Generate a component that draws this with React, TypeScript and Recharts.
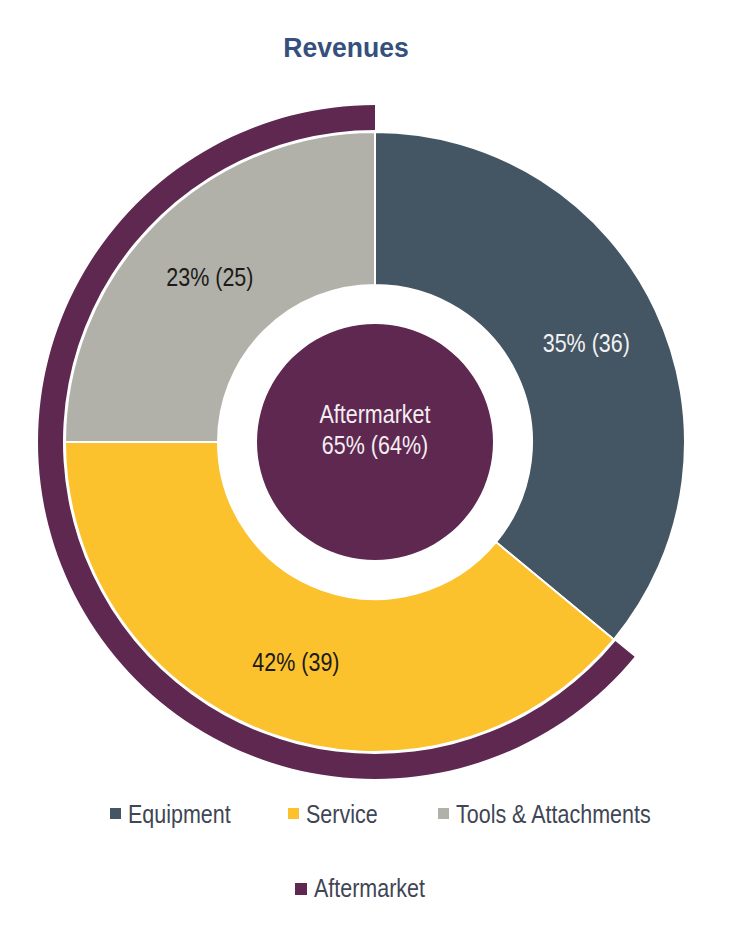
import React from 'react';
import { PieChart, Pie, Cell, Legend } from 'recharts';

// Revenues split, current year share and (previous year) share in %
const segments = ['Equipment', 'Service', 'Tools & Attachments'];
const shareNow = [35, 42, 23];
const sharePrev = [36, 39, 25];
const segmentColors = ['#445564', '#FBC22E', '#B2B1A9'];
const labelColors = ['#F2F2F2', '#1A1A1A', '#1A1A1A'];

const aftermarketName = 'Aftermarket';
const aftermarketNow = 65;
const aftermarketPrev = 64;
const aftermarketColor = '#5E2850';

const FONT = "'Liberation Sans', Arial, sans-serif";
const NARROW = 0.86; // source font is a condensed Arial
const RAD = Math.PI / 180;

// slices are drawn from the previous year shares (the picture's geometry)
const sliceData = segments.map((name, i) => ({
  name,
  value: sharePrev[i],
  now: shareNow[i],
  prev: sharePrev[i],
}));

const ringData = [
  { name: 'other', value: 100 - aftermarketPrev },
  { name: aftermarketName, value: aftermarketPrev },
];

const centerData = [{ name: aftermarketName, value: aftermarketPrev }];

// condensed text helper
const NText = ({ x, y, fill, size = 25, weight = 'normal', anchor = 'middle', scale = NARROW, children }: any) => (
  <text
    transform={`translate(${x} ${y}) scale(${scale} 1)`}
    x={0}
    y={0}
    fill={fill}
    textAnchor={anchor}
    style={{ fontFamily: FONT, fontSize: size, fontWeight: weight }}
  >
    {children}
  </text>
);

const renderSliceLabel = (props: any) => {
  const { cx, cy, midAngle, innerRadius, outerRadius, index } = props;
  const r = (innerRadius + outerRadius) / 2;
  const x = cx + r * Math.cos(-midAngle * RAD);
  const y = cy + r * Math.sin(-midAngle * RAD);
  const d = sliceData[index];
  return (
    <NText x={x} y={y + 9} fill={labelColors[index]}>
      {`${d.now}% (${d.prev})`}
    </NText>
  );
};

const renderCenterLabel = (props: any) => {
  const { cx, cy } = props;
  return (
    <g>
      <NText x={cx} y={cy - 19} fill="#F4EEF2">{aftermarketName}</NText>
      <NText x={cx} y={cy + 12} fill="#F4EEF2">{`${aftermarketNow}% (${aftermarketPrev}%)`}</NText>
    </g>
  );
};

// legend layout: [marker x, marker y, marker size, text x, baseline]
const legendItems = [
  { label: segments[0], color: segmentColors[0], mx: 110, my: 808, ms: 11, tx: 128, ty: 823 },
  { label: segments[1], color: segmentColors[1], mx: 288, my: 808, ms: 11, tx: 306, ty: 823 },
  { label: segments[2], color: segmentColors[2], mx: 438, my: 808, ms: 11, tx: 456, ty: 823 },
  { label: aftermarketName, color: aftermarketColor, mx: 295, my: 883, ms: 12, tx: 314, ty: 897 },
];
const LEGEND_TOP = 790;

const renderLegend = () => (
  <svg width={730} height={130} style={{ display: 'block' }}>
    {legendItems.map((it) => (
      <g key={it.label}>
        <rect x={it.mx} y={it.my - LEGEND_TOP} width={it.ms} height={it.ms} fill={it.color} />
        <NText x={it.tx} y={it.ty - LEGEND_TOP} fill="#3F4654" anchor="start">{it.label}</NText>
      </g>
    ))}
  </svg>
);

export default function App() {
  return (
    <div style={{ position: 'absolute', left: 0, top: 0, width: 730, height: 930, background: '#FFFFFF' }}>
      <PieChart width={730} height={930} margin={{ top: 0, right: 0, bottom: 0, left: 0 }}>
        <NText x={346} y={57} fill="#36507E" size={28} weight="bold" scale={0.95}>
          Revenues
        </NText>
        <Pie
          data={ringData}
          dataKey="value"
          cx={375}
          cy={442}
          innerRadius={312}
          outerRadius={337}
          startAngle={90}
          endAngle={-270}
          stroke="none"
          isAnimationActive={false}
        >
          <Cell fill="transparent" />
          <Cell fill={aftermarketColor} />
        </Pie>
        <Pie
          data={sliceData}
          dataKey="value"
          cx={375}
          cy={442}
          innerRadius={157}
          outerRadius={310}
          startAngle={90}
          endAngle={-270}
          stroke="#FFFFFF"
          strokeWidth={2}
          label={renderSliceLabel}
          labelLine={false}
          isAnimationActive={false}
        >
          {sliceData.map((d, i) => (
            <Cell key={d.name} fill={segmentColors[i]} />
          ))}
        </Pie>
        <Pie
          data={centerData}
          dataKey="value"
          cx={375}
          cy={442}
          innerRadius={0}
          outerRadius={118}
          stroke="none"
          fill={aftermarketColor}
          label={renderCenterLabel}
          labelLine={false}
          isAnimationActive={false}
        />
        <Legend
          content={renderLegend}
          wrapperStyle={{ left: 0, top: LEGEND_TOP, width: 730 }}
        />
      </PieChart>
    </div>
  );
}
